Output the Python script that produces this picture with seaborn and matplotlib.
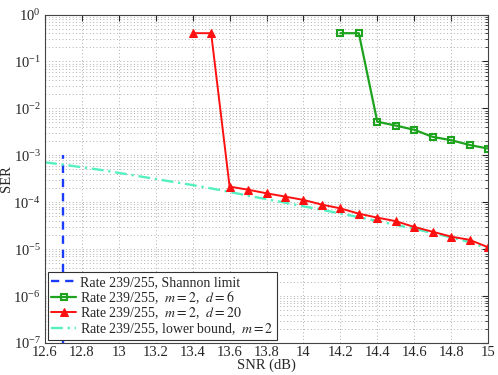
import numpy as np
import pandas as pd
import seaborn as sns
import matplotlib.pyplot as plt
from matplotlib.ticker import LogLocator, NullFormatter

# SER values
snr_d6 = [14.2, 14.3, 14.4, 14.5, 14.6, 14.7, 14.8, 14.9, 15.0]
ser_d6 = [0.40, 0.40, 5.2e-3, 4.3e-3, 3.5e-3, 2.47e-3, 2.1e-3, 1.66e-3, 1.39e-3]

snr_d20 = [13.4, 13.5, 13.6, 13.7, 13.8, 13.9, 14.0, 14.1, 14.2, 14.3,
           14.4, 14.5, 14.6, 14.7, 14.8, 14.9, 15.0]
ser_d20 = [0.40, 0.40, 2.15e-4, 1.85e-4, 1.55e-4, 1.32e-4, 1.12e-4, 8.9e-5, 7.4e-5,
           5.7e-5, 4.7e-5, 3.95e-5, 2.97e-5, 2.35e-5, 1.85e-5, 1.58e-5, 1.1e-5]

snr_lb = [12.6, 12.7, 12.8, 12.9, 13.0, 13.1, 13.2, 13.3, 13.4, 13.5, 13.6, 13.7, 13.8,
          13.9, 14.0, 14.1, 14.2, 14.3, 14.4, 14.5, 14.6, 14.7, 14.8, 14.9, 15.0]
ser_lb = [7.08e-4, 6.31e-4, 5.56e-4, 4.90e-4, 4.22e-4, 3.63e-4, 3.13e-4, 2.69e-4, 2.32e-4,
          1.97e-4, 1.66e-4, 1.38e-4, 1.16e-4, 9.8e-5, 8.2e-5, 6.9e-5, 5.75e-5, 4.8e-5,
          3.98e-5, 3.3e-5, 2.72e-5, 2.21e-5, 1.78e-5, 1.41e-5, 1.02e-5]

snr_shannon = [12.7, 12.7]
ser_shannon = [1e-7, 1e-3]

xtick_labels = ["12.6", "12.8", "13", "13.2", "13.4", "13.6", "13.8",
                "14", "14.2", "14.4", "14.6", "14.8", "15"]

lbl_shannon = "Rate 239/255, Shannon limit"
lbl_d6 = r"Rate 239/255,  $m = 2$,  $d = 6$"
lbl_d20 = r"Rate 239/255,  $m = 2$,  $d = 20$"
lbl_lb = r"Rate 239/255, lower bound,  $m = 2$"

sns.set_style("white")
plt.rcParams['font.family'] = ['Liberation Serif', 'DejaVu Serif']
plt.rcParams['mathtext.fontset'] = 'stix'
plt.rcParams['xtick.direction'] = 'in'
plt.rcParams['ytick.direction'] = 'in'

fig = plt.figure(figsize=(4.98, 3.75), dpi=100)
ax = fig.add_axes([0.0904, 0.0853, 0.8896, 0.876])

sns.lineplot(x=snr_shannon, y=ser_shannon, ax=ax, estimator=None, sort=False,
             color='#1a3cff', lw=1.7, linestyle=(0, (3.5, 2.5)), label=lbl_shannon)
sns.lineplot(x=snr_d6, y=ser_d6, ax=ax, estimator=None, color='#1ea31e', lw=1.6,
             marker='s', ms=4.5, mfc='none', mec='#1ea31e', mew=1.5, label=lbl_d6)
sns.lineplot(x=snr_lb, y=ser_lb, ax=ax, estimator=None, color='#55f0c0', lw=1.7,
             linestyle=(0, (5, 2, 1, 2)), label=lbl_lb)
sns.lineplot(x=snr_d20, y=ser_d20, ax=ax, estimator=None, color='#ff1010', lw=1.4,
             marker='^', ms=6, mfc='#ff1010', mec='#ff1010', label=lbl_d20)

ax.set_yscale('log')
ax.set_xlim(12.6, 15)
ax.set_ylim(1e-7, 1)
ax.yaxis.set_major_locator(LogLocator(base=10, numticks=10))
ax.yaxis.set_minor_locator(LogLocator(base=10, subs=np.arange(2, 10), numticks=20))
ax.yaxis.set_minor_formatter(NullFormatter())
ax.set_xticks(np.round(np.arange(12.6, 15.01, 0.2), 1))
ax.set_xticklabels(xtick_labels)

ax.grid(True, which='major', axis='both', color='#b0b0b0', linestyle=(0, (1, 2.5)), lw=0.7)
ax.grid(True, which='minor', axis='y', color='#b0b0b0', linestyle=(0, (1, 2.5)), lw=0.7)
ax.tick_params(which='both', top=True, right=True, labelsize=10.5)
ax.tick_params(axis='x', pad=2)
ax.tick_params(axis='y', pad=3)
ax.tick_params(which='major', length=4)
ax.tick_params(which='minor', length=2)
for s in ax.spines.values():
    s.set_color('#444444')
    s.set_linewidth(0.8)

ax.set_xlabel("SNR (dB)", fontsize=10.5, labelpad=0)
ax.set_ylabel("SER", fontsize=10.5, labelpad=0)

handles, labels = ax.get_legend_handles_labels()
order = [labels.index(l) for l in [lbl_shannon, lbl_d6, lbl_d20, lbl_lb]]
leg = ax.legend([handles[i] for i in order], [labels[i] for i in order],
                loc='lower left', fontsize=10, frameon=True, fancybox=False,
                edgecolor='#333333', framealpha=1, handlelength=1.8, handletextpad=0.27,
                borderaxespad=0.2, borderpad=0.25, labelspacing=0.0)
leg.get_frame().set_linewidth(0.8)

fig.savefig("out.png", dpi=100)
